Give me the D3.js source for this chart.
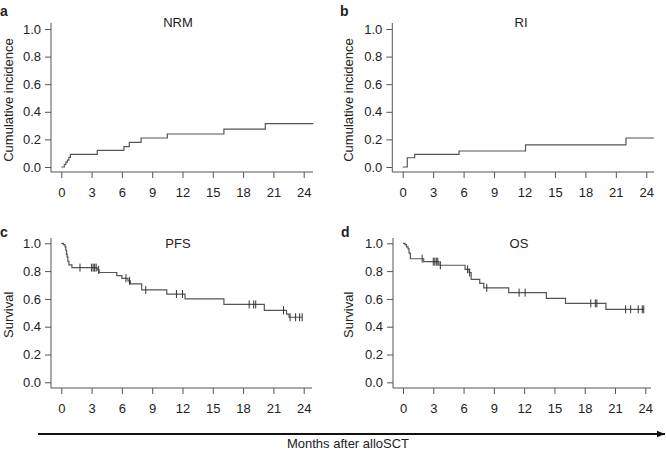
<!DOCTYPE html>
<html>
<head>
<meta charset="utf-8">
<script src="https://cdn.jsdelivr.net/npm/d3@7/dist/d3.min.js"></script>
<style>
  html, body { margin: 0; padding: 0; background: #fff; }
  svg { display: block; }
  text { font-family: "Liberation Sans", Arial, Helvetica, sans-serif; fill: #222; }
</style>
</head>
<body>
<svg id="chart" width="666" height="452"></svg>
<script>
// ---------- DATA ----------
const xTicks = [0, 3, 6, 9, 12, 15, 18, 21, 24];
const yTicks = [0.0, 0.2, 0.4, 0.6, 0.8, 1.0];

const nrmTimes  = [0, 0.3, 0.45, 0.6, 0.75, 0.9, 3.56, 6.2, 6.73, 7.9, 10.5, 16.1, 20.2, 24.95];
const nrmValues = [0, 0.018, 0.035, 0.05, 0.07, 0.092, 0.121, 0.147, 0.179, 0.21, 0.239, 0.275, 0.314, 0.314];

const riTimes  = [0, 0.45, 1.18, 5.55, 12.1, 22.0, 24.75];
const riValues = [0, 0.067, 0.092, 0.116, 0.16, 0.21, 0.21];

const pfsTimes  = [0, 0.2, 0.37, 0.45, 0.52, 0.58, 0.65, 0.75, 1.05, 3.55, 3.75, 5.5, 6.0, 6.6, 6.85, 7.96, 10.44, 12.25, 16.1, 20.1, 22.3, 22.55, 23.85];
const pfsValues = [1, 0.99, 0.975, 0.95, 0.92, 0.9, 0.87, 0.845, 0.825, 0.808, 0.79, 0.767, 0.748, 0.73, 0.708, 0.665, 0.635, 0.6, 0.56, 0.518, 0.49, 0.468, 0.468];
const pfsCensor = [1.85, 3.0, 3.15, 3.3, 3.45, 3.7, 6.4, 6.75, 8.36, 11.4, 12.0, 18.6, 19.05, 19.25, 22.0, 22.65, 23.2, 23.6, 23.85];

const osTimes  = [0, 0.2, 0.35, 0.5, 0.6, 0.73, 2.05, 3.56, 6.15, 6.55, 6.75, 7.6, 8.0, 10.47, 14.2, 16.1, 20.1, 23.85];
const osValues = [1, 0.99, 0.975, 0.96, 0.93, 0.889, 0.868, 0.842, 0.813, 0.79, 0.741, 0.712, 0.68, 0.645, 0.604, 0.568, 0.525, 0.525];
const osCensor = [1.9, 3.0, 3.15, 3.3, 3.45, 3.7, 6.4, 6.6, 8.3, 11.5, 12.1, 18.6, 19.05, 19.2, 22.05, 22.55, 23.3, 23.7, 23.85];

const panelLetters = ["a", "b", "c", "d"];
const panelTitles  = ["NRM", "RI", "PFS", "OS"];
const yLabels      = ["Cumulative incidence", "Cumulative incidence", "Survival", "Survival"];
const xAxisTitle   = "Months after alloSCT";

// ---------- LAYOUT ----------
const layout = [
  { x0: 61.3, x24: 303.7, yb: 167, yt: 29,  axX: 51,    axTop: 23,  axBot: 172, axRight: 313, titleX: 178, titleY: 22,  letX: 0,   letY: 11,  ylabX: 8,   times: nrmTimes, values: nrmValues, censor: [] },
  { x0: 402.7, x24: 646.3, yb: 167, yt: 29, axX: 392.3, axTop: 23,  axBot: 172, axRight: 654, titleX: 521, titleY: 22,  letX: 340, letY: 11,  ylabX: 348, times: riTimes,  values: riValues,  censor: [] },
  { x0: 61.3, x24: 303.7, yb: 382.3, yt: 243.3, axX: 51, axTop: 238, axBot: 388, axRight: 312, titleX: 178, titleY: 243, letX: 0, letY: 232, ylabX: 8, times: pfsTimes, values: pfsValues, censor: pfsCensor },
  { x0: 403, x24: 645.3, yb: 382.3, yt: 243.3, axX: 393, axTop: 238, axBot: 388, axRight: 651, titleX: 519, titleY: 243, letX: 341, letY: 232, ylabX: 348, times: osTimes, values: osValues, censor: osCensor }
];

const lineColor = "#555";
const svg = d3.select("#chart");

function stepValue(times, values, t) {
  let v = values[0];
  for (let i = 0; i < times.length; i++) { if (times[i] <= t) v = values[i]; }
  return v;
}

layout.forEach((p, i) => {
  const x = d3.scaleLinear().domain([0, 24]).range([p.x0, p.x24]);
  const y = d3.scaleLinear().domain([0, 1]).range([p.yb, p.yt]);
  const g = svg.append("g");

  // axis box lines (L shape)
  g.append("line").attr("x1", p.axX).attr("x2", p.axX).attr("y1", p.axTop).attr("y2", p.axBot)
    .attr("stroke", lineColor).attr("stroke-width", 1);
  g.append("line").attr("x1", p.axX).attr("x2", p.axRight).attr("y1", p.axBot).attr("y2", p.axBot)
    .attr("stroke", lineColor).attr("stroke-width", 1);

  // y axis
  const ya = g.append("g").attr("transform", `translate(${p.axX},0)`)
    .call(d3.axisLeft(y).tickValues(yTicks).tickFormat(d3.format(".1f")).tickSize(6).tickPadding(4));
  ya.select(".domain").remove();
  ya.selectAll(".tick line").attr("stroke", lineColor);
  ya.selectAll(".tick text").attr("font-size", 13).attr("font-family", "Liberation Sans, Arial, sans-serif").attr("fill", "#222");

  // x axis
  const xa = g.append("g").attr("transform", `translate(0,${p.axBot})`)
    .call(d3.axisBottom(x).tickValues(xTicks).tickSize(6).tickPadding(10));
  xa.select(".domain").remove();
  xa.selectAll(".tick line").attr("stroke", lineColor);
  xa.selectAll(".tick text").attr("font-size", 13).attr("font-family", "Liberation Sans, Arial, sans-serif").attr("fill", "#222");

  // curve
  const pts = p.times.map((t, k) => [t, p.values[k]]);
  const line = d3.line().x(d => x(d[0])).y(d => y(d[1])).curve(d3.curveStepAfter);
  g.append("path").datum(pts).attr("d", line).attr("fill", "none")
    .attr("stroke", lineColor).attr("stroke-width", 1.2);

  // censor marks
  g.selectAll(".cens").data(p.censor).enter().append("line")
    .attr("x1", d => x(d)).attr("x2", d => x(d))
    .attr("y1", d => y(stepValue(p.times, p.values, d)) - 4)
    .attr("y2", d => y(stepValue(p.times, p.values, d)) + 4)
    .attr("stroke", "#333").attr("stroke-width", 1);

  // title
  g.append("text").attr("x", p.titleX).attr("y", p.titleY).attr("dy", "0.35em")
    .attr("text-anchor", "middle").attr("font-size", 13).text(panelTitles[i]);

  // panel letter
  g.append("text").attr("x", p.letX).attr("y", p.letY).attr("dy", "0.35em")
    .attr("font-size", 14).attr("font-weight", "bold").text(panelLetters[i]);

  // y label
  const cy = (p.yb + p.yt) / 2 + 2;
  g.append("text").attr("transform", `translate(${p.ylabX},${cy}) rotate(-90)`)
    .attr("dy", "0.35em").attr("text-anchor", "middle").attr("font-size", 13).text(yLabels[i]);
});

// bottom arrow
svg.append("defs").append("marker").attr("id", "arrow")
  .attr("viewBox", "0 0 10 10").attr("refX", 10).attr("refY", 5)
  .attr("markerWidth", 4).attr("markerHeight", 4).attr("orient", "auto")
  .append("path").attr("d", "M0,1 L10,5 L0,9 Z").attr("fill", "#111");
svg.append("line").attr("x1", 38).attr("x2", 665).attr("y1", 434).attr("y2", 434)
  .attr("stroke", "#111").attr("stroke-width", 2).attr("marker-end", "url(#arrow)");
svg.append("text").attr("x", 348).attr("y", 443).attr("dy", "0.35em")
  .attr("text-anchor", "middle").attr("font-size", 13).text(xAxisTitle);
</script>
</body>
</html>
